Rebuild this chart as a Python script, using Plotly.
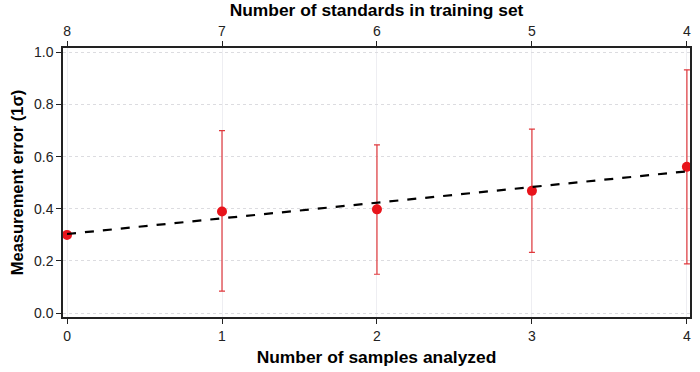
import numpy as np
import plotly.graph_objects as go

samples = [0, 1, 2, 3, 4]
standards = ["8", "7", "6", "5", "4"]
error = [0.30, 0.39, 0.398, 0.469, 0.561]
err_upper = [0.0, 0.70, 0.645, 0.706, 0.933]
err_lower = [0.0, 0.084, 0.149, 0.233, 0.189]

plus = [u - e if u else 0 for u, e in zip(err_upper, error)]
minus = [e - l if l else 0 for l, e in zip(err_lower, error)]

slope, intercept = np.polyfit(samples, error, 1)
fit_x = [samples[0], samples[-1]]
fit_y = [intercept + slope * x for x in fit_x]

font = "Liberation Sans, Arial, sans-serif"
fig = go.Figure()
fig.add_trace(go.Scatter(
    x=samples, y=error, mode="markers",
    marker=dict(color="#e8141b", size=10),
    error_y=dict(type="data", symmetric=False, array=plus, arrayminus=minus,
                 color="#e0383c", thickness=1.2, width=3),
    showlegend=False))
fig.add_trace(go.Scatter(
    x=fit_x, y=fit_y, mode="lines",
    line=dict(color="black", width=2.2, dash="dash"), showlegend=False))
fig.add_trace(go.Scatter(x=samples, y=error, xaxis="x2", mode="markers",
                         marker=dict(opacity=0), showlegend=False, hoverinfo="skip"))

axis_common = dict(showline=True, linecolor="#222", linewidth=1.5, ticks="outside",
                   ticklen=5, tickcolor="#222", tickfont=dict(family=font, size=14, color="#222"),
                   zeroline=False)
fig.update_layout(
    width=700, height=372,
    margin=dict(l=63, r=8, t=47, b=54),
    plot_bgcolor="white", paper_bgcolor="white",
    xaxis=dict(range=[-0.026, 4.02], tickvals=samples,
               showgrid=True, gridcolor="#eeeef2", gridwidth=1,
               title=dict(text="<b>Number of samples analyzed</b>",
                          font=dict(family=font, size=17.4, color="black"), standoff=8),
               **axis_common),
    xaxis2=dict(range=[-0.026, 4.02], overlaying="x", side="top", tickvals=samples,
                ticktext=standards, showgrid=False,
                title=dict(text="<b>Number of standards in training set</b>",
                           font=dict(family=font, size=17.4, color="black"), standoff=2),
                **axis_common),
    yaxis=dict(range=[-0.015, 1.017], tickvals=[0, 0.2, 0.4, 0.6, 0.8, 1.0],
               tickformat=".1f", showgrid=True, gridcolor="#dcdce0", griddash="dot",
               mirror=True,
               title=dict(text="<b>Measurement error (1σ)</b>",
                          font=dict(family=font, size=16.5, color="black"), standoff=6),
               **axis_common),
)
fig.update_xaxes(mirror=False)
fig.write_html("out.html")
